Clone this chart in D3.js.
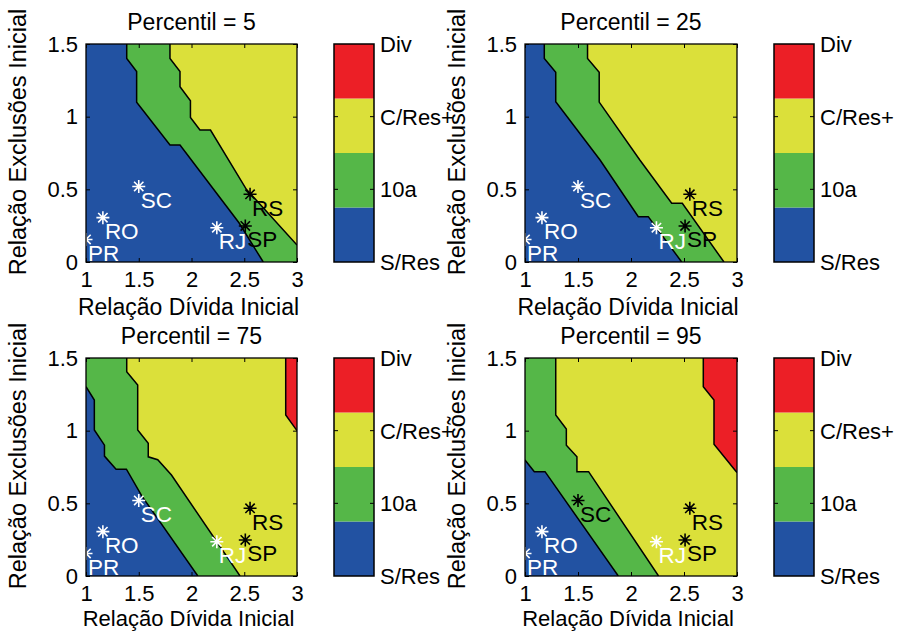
<!DOCTYPE html>
<html><head><meta charset="utf-8">
<script src="https://cdn.jsdelivr.net/npm/d3@7"></script>
<style>
body{margin:0;background:#fff;}
svg text{font-family:"Liberation Sans",Arial,sans-serif;}
</style></head>
<body><svg id="c" width="898" height="631"></svg>
<script>
// ---------------- data ----------------
const percentiles = [5, 25, 75, 95];
const levelLabels = ["S/Res", "10a", "C/Res+", "Div"];
const xTicks = [1, 1.5, 2, 2.5, 3];
const xTickLabels = ["1", "1.5", "2", "2.5", "3"];
const yTicks = [0, 0.5, 1, 1.5];
const yTickLabels = ["0", "0.5", "1", "1.5"];
const states = ["PR", "RO", "SC", "RJ", "RS", "SP"];
const stateDebt = [1.0, 1.16, 1.50, 2.24, 2.555, 2.51];
const stateExcl = [0.155, 0.305, 0.52, 0.236, 0.466, 0.248];
// 1 = white marker/label, 0 = black
const whiteP5  = [1, 1, 1, 1, 0, 0];
const whiteP25 = [1, 1, 1, 1, 0, 0];
const whiteP75 = [1, 1, 1, 1, 0, 0];
const whiteP95 = [1, 1, 0, 1, 0, 0];

// contour boundaries (data coords): S/Res|10a, 10a|C/Res+, C/Res+|Div
const p5_b1  = [[1.386,1.5],[1.386,1.40],[1.48,1.31],[1.48,1.10],[1.796,0.805],[1.891,0.805],[2.45,0.27],[2.68,0]];
const p5_b2  = [[1.796,1.5],[1.796,1.40],[1.891,1.31],[1.891,1.206],[1.99,1.11],[1.99,0.995],[2.08,0.908],[2.18,0.908],[2.52,0.50],[3,0.117]];
const p5_b3  = [];
const p25_b1 = [[1.182,1.5],[1.182,1.40],[1.29,1.305],[1.29,1.103],[1.708,0.702],[2.069,0.312],[2.163,0.312],[2.478,0]];
const p25_b2 = [[1.59,1.5],[1.59,1.40],[1.70,1.305],[1.70,1.10],[2.085,0.70],[2.384,0.404],[2.484,0.404],[2.877,0]];
const p25_b3 = [];
const p75_b1 = [[1,1.303],[1.079,1.211],[1.079,1.005],[1.175,0.90],[1.175,0.825],[1.285,0.735],[1.383,0.735],[1.53,0.55],[2.06,0]];
const p75_b2 = [[1.386,1.5],[1.386,1.406],[1.49,1.314],[1.49,1.005],[1.59,0.913],[1.59,0.82],[1.68,0.80],[1.81,0.695],[2.46,0]];
const p75_b3 = [[2.893,1.5],[2.893,1.108],[3,1.0]];
const p95_b1 = [[1,0.798],[1.088,0.718],[1.189,0.718],[1.88,0]];
const p95_b2 = [[1.29,1.5],[1.29,1.108],[1.39,1.011],[1.39,0.90],[1.49,0.82],[1.49,0.718],[1.60,0.718],[2.26,0]];
const p95_b3 = [[2.682,1.5],[2.682,1.303],[2.783,1.211],[2.783,0.906],[2.98,0.73],[3,0.712]];

const boundaries = [[p5_b1,p5_b2,p5_b3],[p25_b1,p25_b2,p25_b3],[p75_b1,p75_b2,p75_b3],[p95_b1,p95_b2,p95_b3]];
const whites = [whiteP5, whiteP25, whiteP75, whiteP95];

// ---------------- style / layout ----------------
const levelColors = ["#2252a2", "#55b748", "#dbe03a", "#ec1f26"];
const layout = [
  {x0:86, x1:297, y0:44, y1:262, cb:334, xl:53, xf:23},
  {x0:525, x1:737, y0:44, y1:262, cb:774, xl:53, xf:23},
  {x0:86, x1:297, y0:358, y1:576, cb:334, xl:50, xf:22},
  {x0:525, x1:737, y0:358, y1:576, cb:774, xl:50, xf:22}
];
const FS = 22;
const svg = d3.select("#c");

layout.forEach((L, i) => {
  const x = d3.scaleLinear().domain([1, 3]).range([L.x0, L.x1]);
  const y = d3.scaleLinear().domain([0, 1.5]).range([L.y1, L.y0]);
  const g = svg.append("g");
  const clipId = "clip" + i;
  g.append("clipPath").attr("id", clipId).append("rect")
    .attr("x", L.x0).attr("y", L.y0).attr("width", L.x1 - L.x0).attr("height", L.y1 - L.y0);
  const plot = g.append("g").attr("clip-path", `url(#${clipId})`);
  plot.append("rect").attr("x", L.x0).attr("y", L.y0).attr("width", L.x1 - L.x0).attr("height", L.y1 - L.y0)
    .attr("fill", levelColors[0]);
  const line = d3.line().x(d => x(d[0])).y(d => y(d[1]));
  boundaries[i].forEach((b, k) => {
    if (!b.length) return;
    const poly = b.slice();
    const last = b[b.length - 1], first = b[0];
    if (last[1] === 0) poly.push([3, 0]);
    poly.push([3, 1.5]);
    if (first[1] < 1.5) poly.push([1, 1.5]);
    plot.append("path").attr("d", line(poly) + "Z").attr("fill", levelColors[k + 1]);
  });
  boundaries[i].forEach(b => {
    if (!b.length) return;
    plot.append("path").attr("d", line(b)).attr("fill", "none").attr("stroke", "#000").attr("stroke-width", 1.5);
  });
  // markers
  const r = 6.5, rd = r * 0.72;
  const star = `M${-r},0H${r}M0,${-r}V${r}M${-rd},${-rd}L${rd},${rd}M${-rd},${rd}L${rd},${-rd}`;
  states.forEach((s, j) => {
    const col = whites[i][j] ? "#fff" : "#000";
    plot.append("path").attr("d", star)
      .attr("transform", `translate(${x(stateDebt[j])},${y(stateExcl[j])})`)
      .attr("stroke", col).attr("stroke-width", 1.6).attr("fill", "none");
    g.append("text").attr("x", x(stateDebt[j]) + 2).attr("y", y(stateExcl[j]) + 21.5)
      .attr("font-size", FS + 0.5).attr("fill", col).text(s);
  });
  // axes (inward ticks)
  const ax = d3.axisBottom(x).tickValues(xTicks).tickFormat((d, k) => xTickLabels[k]).tickSize(-4).tickPadding(9);
  const gx = g.append("g").attr("transform", `translate(0,${L.y1})`).call(ax);
  const ay = d3.axisLeft(y).tickValues(yTicks).tickFormat((d, k) => yTickLabels[k]).tickSize(-4).tickPadding(8);
  const gy = g.append("g").attr("transform", `translate(${L.x0},0)`).call(ay);
  const axT = d3.axisTop(x).tickValues(xTicks).tickFormat("").tickSize(-4);
  const gt = g.append("g").attr("transform", `translate(0,${L.y0})`).call(axT);
  const axR = d3.axisRight(y).tickValues(yTicks).tickFormat("").tickSize(-4);
  const gr = g.append("g").attr("transform", `translate(${L.x1},0)`).call(axR);
  [gx, gy, gt, gr].forEach(a => {
    a.select(".domain").remove();
    a.selectAll("text").attr("font-size", FS).attr("font-family", "Liberation Sans, Arial, sans-serif").attr("fill", "#000");
    a.selectAll("line").attr("stroke", "#000");
  });
  g.append("rect").attr("x", L.x0).attr("y", L.y0).attr("width", L.x1 - L.x0).attr("height", L.y1 - L.y0)
    .attr("fill", "none").attr("stroke", "#000").attr("stroke-width", 1.3);
  // titles and labels
  g.append("text").attr("x", (L.x0 + L.x1) / 2).attr("y", L.y0 - 14).attr("text-anchor", "middle")
    .attr("font-size", 23).text("Percentil = " + percentiles[i]);
  g.append("text").attr("x", (L.x0 + L.x1) / 2 - 3).attr("y", L.y1 + L.xl).attr("text-anchor", "middle")
    .attr("font-size", L.xf).text("Relação Dívida Inicial");
  g.append("text").attr("transform", `translate(${L.x0 - 60},${(L.y0 + L.y1) / 2 - 11}) rotate(-90)`)
    .attr("text-anchor", "middle").attr("font-size", 23.5).text("Relação Exclusões Inicial");
  // colorbar
  const cbW = 40;
  const cy = d3.scaleLinear().domain([0, 4]).range([L.y1, L.y0]);
  levelColors.forEach((c, k) => {
    g.append("rect").attr("x", L.cb).attr("y", cy(k + 1)).attr("width", cbW).attr("height", cy(k) - cy(k + 1)).attr("fill", c);
  });
  g.append("rect").attr("x", L.cb).attr("y", L.y0).attr("width", cbW).attr("height", L.y1 - L.y0)
    .attr("fill", "none").attr("stroke", "#000").attr("stroke-width", 1.5);
  const ty = d3.scaleLinear().domain([0, 3]).range([L.y1, L.y0]);
  levelLabels.forEach((lab, k) => {
    const yy = ty(k);
    if (k > 0 && k < 3) {
      g.append("line").attr("x1", L.cb).attr("x2", L.cb + 4).attr("y1", yy).attr("y2", yy).attr("stroke", "#000");
      g.append("line").attr("x1", L.cb + cbW - 4).attr("x2", L.cb + cbW).attr("y1", yy).attr("y2", yy).attr("stroke", "#000");
    }
    g.append("text").attr("x", L.cb + cbW + 6).attr("y", yy).attr("dy", "0.36em")
      .attr("font-size", FS).text(lab);
  });
});
</script></body></html>
